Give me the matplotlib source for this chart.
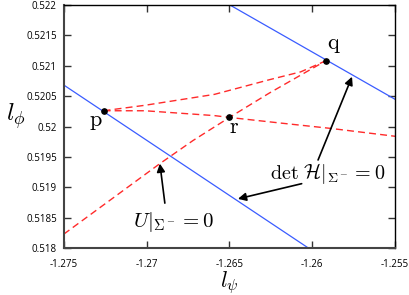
import matplotlib
matplotlib.use('Agg')
import matplotlib.pyplot as plt

plt.rcParams['mathtext.fontset'] = 'cm'
plt.rcParams['font.family'] = ['Open Sans', 'DejaVu Sans']

# blue curves (endpoints)
blue1_x = [-1.275, -1.26023]
blue1_y = [0.520683, 0.518]
blue2_x = [-1.26497, -1.255]
blue2_y = [0.522, 0.520448]

# red dashed curves
red_a_x = [-1.2726, -1.2701, -1.2659, -1.2626, -1.2607, -1.2592]
red_a_y = [0.52026, 0.52035, 0.52053, 0.52077, 0.52090, 0.52108]
red_b_x = [-1.2726, -1.2701, -1.2659, -1.2650, -1.2620, -1.2589, -1.2550]
red_b_y = [0.52026, 0.52026, 0.52018, 0.52015, 0.52006, 0.51997, 0.51984]
red_c_x = [-1.2750, -1.2692, -1.2672, -1.2650, -1.2626, -1.2592]
red_c_y = [0.51823, 0.51939, 0.51977, 0.52015, 0.52055, 0.52108]

# marked points
pt_names = ['p', 'q', 'r']
pt_x = [-1.2726, -1.2592, -1.2650]
pt_y = [0.52026, 0.52108, 0.52015]

xticks = [-1.275, -1.27, -1.265, -1.26, -1.255]
xtick_labels = ['-1.275', '-1.27', '-1.265', '-1.26', '-1.255']
yticks = [0.518, 0.5185, 0.519, 0.5195, 0.52, 0.5205, 0.521, 0.5215, 0.522]
ytick_labels = ['0.518', '0.5185', '0.519', '0.5195', '0.52', '0.5205', '0.521', '0.5215', '0.522']

fig = plt.figure(figsize=(4.09, 2.95), dpi=100)
ax = fig.add_axes([0.156, 0.159, 0.81, 0.824])

blue = '#3a5cff'
red = '#ff2a2a'
ax.plot(blue1_x, blue1_y, color=blue, lw=0.9)
ax.plot(blue2_x, blue2_y, color=blue, lw=0.9)
for xs, ys in [(red_a_x, red_a_y), (red_b_x, red_b_y), (red_c_x, red_c_y)]:
    ax.plot(xs, ys, color=red, lw=1.0, dashes=(5, 3))
ax.plot(pt_x, pt_y, 'o', color='black', ms=3.8, zorder=5)

# point labels
ax.text(-1.27304, 0.52001, r'$\mathrm{p}$', fontsize=16, ha='center', va='baseline')
ax.text(-1.25869, 0.52127, r'$\mathrm{q}$', fontsize=16, ha='center', va='baseline')
ax.text(-1.26473, 0.51989, r'$\mathrm{r}$', fontsize=16, ha='center', va='baseline')

# annotations
arrow = dict(arrowstyle='-|>', color='black', lw=1.2, mutation_scale=12,
             shrinkA=0, shrinkB=0)
ax.text(-1.26835, 0.51843, r'$U|_{\Sigma^-}=0$', fontsize=15, ha='center', va='center')
ax.annotate('', xy=(-1.2692, 0.51939), xytext=(-1.26890, 0.51874), arrowprops=arrow)
ax.text(-1.25905, 0.51923, r'$\det\,\mathcal{H}|_{\Sigma^-}=0$', fontsize=14.5,
        ha='center', va='center')
ax.annotate('', xy=(-1.2576, 0.52082), xytext=(-1.25965, 0.51945), arrowprops=arrow)
ax.annotate('', xy=(-1.26449, 0.51881), xytext=(-1.26064, 0.51906), arrowprops=arrow)

ax.set_xlim(-1.275, -1.255)
ax.set_ylim(0.518, 0.522)
ax.set_xticks(xticks)
ax.set_xticklabels(xtick_labels)
ax.set_yticks(yticks)
ax.set_yticklabels(ytick_labels)
ax.tick_params(direction='in', length=5, width=1, labelsize=7,
               top=True, right=True, color='#333333')
ax.tick_params(axis='x', pad=8)
ax.tick_params(axis='y', pad=5)
for s in ['left', 'bottom']:
    ax.spines[s].set_linewidth(1.5)
    ax.spines[s].set_color('#444444')
for s in ['top', 'right']:
    ax.spines[s].set_linewidth(1.0)

ax.set_xlabel(r'$l_\psi$', fontsize=16)
ax.xaxis.set_label_coords(0.5, -0.085)
ax.xaxis.label.set_va('top')
ax.set_ylabel(r'$l_\phi$', fontsize=18, rotation=0, labelpad=0)
ax.yaxis.set_label_coords(-0.145, 0.48)

plt.savefig('out.png', dpi=100)
